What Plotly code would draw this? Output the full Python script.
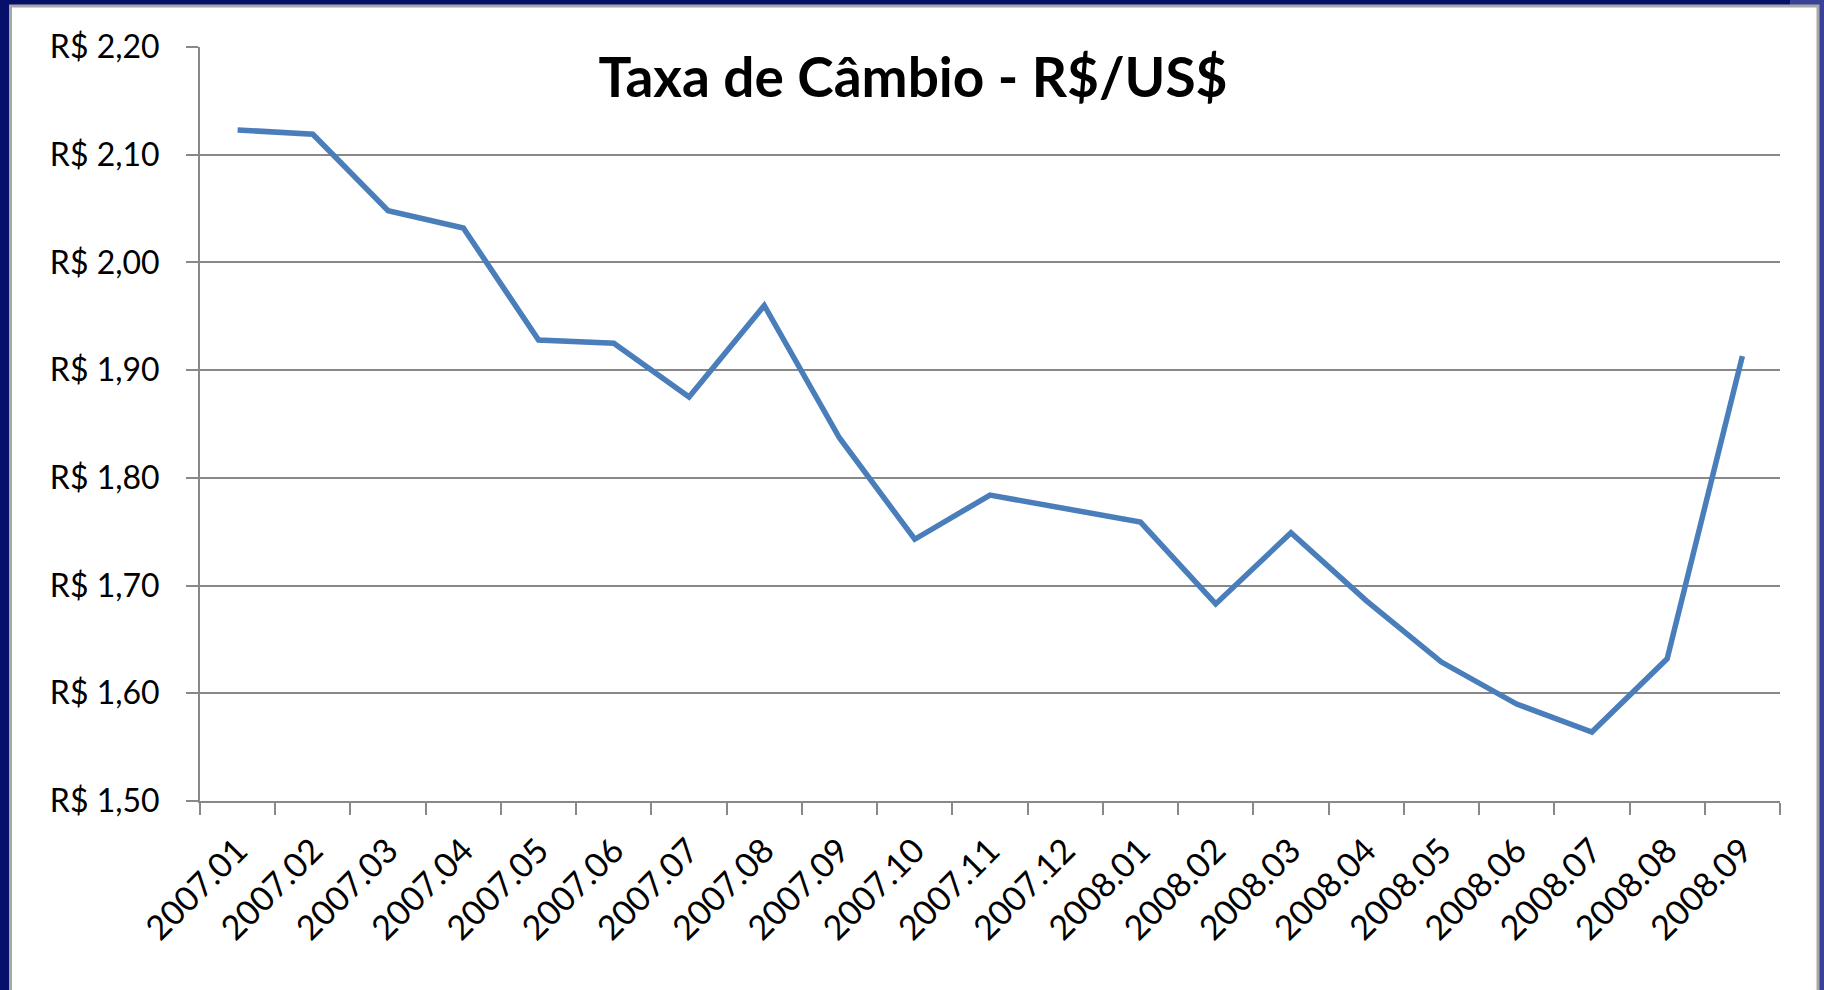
import plotly.graph_objects as go

months = ['2007.01', '2007.02', '2007.03', '2007.04', '2007.05', '2007.06', '2007.07',
          '2007.08', '2007.09', '2007.10', '2007.11', '2007.12', '2008.01', '2008.02',
          '2008.03', '2008.04', '2008.05', '2008.06', '2008.07', '2008.08', '2008.09']
rate = [2.123, 2.119, 2.048, 2.032, 1.928, 1.925, 1.875,
        1.960, 1.837, 1.743, 1.784, 1.771, 1.759, 1.683,
        1.749, 1.686, 1.629, 1.590, 1.564, 1.632, 1.913]

y_ticks = [1.5, 1.6, 1.7, 1.8, 1.9, 2.0, 2.1, 2.2]
y_labels = ['R$ 1,50', 'R$ 1,60', 'R$ 1,70', 'R$ 1,80', 'R$ 1,90', 'R$ 2,00', 'R$ 2,10', 'R$ 2,20']

W, H = 1824, 990
L, R, T, B = 200, 44, 47, 189
pw, ph = W - L - R, H - T - B


def px_x(v):
    return (v - L) / pw


def px_y(v):
    return (H - B - v) / ph


fig = go.Figure()
fig.add_trace(go.Scatter(x=months, y=rate, mode='lines',
                         line=dict(color='#4a7ebb', width=5.5),
                         hoverinfo='x+y', showlegend=False))

# lighter blue strip on the right side of the slide frame
fig.add_shape(type='rect', xref='paper', yref='paper', layer='below',
              x0=px_x(1790), x1=px_x(1830), y0=px_y(1000), y1=px_y(-10),
              fillcolor='#3a4398', line=dict(width=0))
# white slide panel inside the dark blue frame
fig.add_shape(type='rect', xref='paper', yref='paper', layer='below',
              x0=px_x(10.5), x1=px_x(1818), y0=px_y(1000), y1=px_y(6),
              fillcolor='white', line=dict(color='#a8a8a8', width=3))

grid = '#888888'
fig.update_layout(
    width=W, height=H,
    paper_bgcolor='#06106a',
    plot_bgcolor='white',
    margin=dict(l=L, r=R, t=T, b=B),
    font=dict(family='Lato, Open Sans, sans-serif', color='black'),
    title=dict(text='<b>Taxa de Câmbio - R$/US$</b>',
               x=px_x(913), xref='paper', xanchor='center',
               y=1 - 78 / H, yanchor='middle',
               font=dict(size=55, color='black')),
    xaxis=dict(type='category', range=[-0.5, 20.5], tickson='boundaries',
               ticks='outside', ticklen=12, tickwidth=2, tickcolor=grid,
               showline=True, linecolor=grid, linewidth=2,
               showgrid=False, tickangle=-45, tickfont=dict(size=34),
               ticklabelstandoff=14),
    yaxis=dict(range=[1.5, 2.2], tickvals=y_ticks, ticktext=y_labels,
               ticks='outside', ticklen=12, tickwidth=2, tickcolor=grid,
               showline=True, linecolor=grid, linewidth=2,
               showgrid=True, gridcolor=grid, gridwidth=2,
               zeroline=False, tickfont=dict(size=32), ticklabelstandoff=20),
)

# drop the browser's default body margin so the figure fills the window
fig.write_html('out.html', config={'displayModeBar': False},
               post_script="document.body.style.margin='0';")
